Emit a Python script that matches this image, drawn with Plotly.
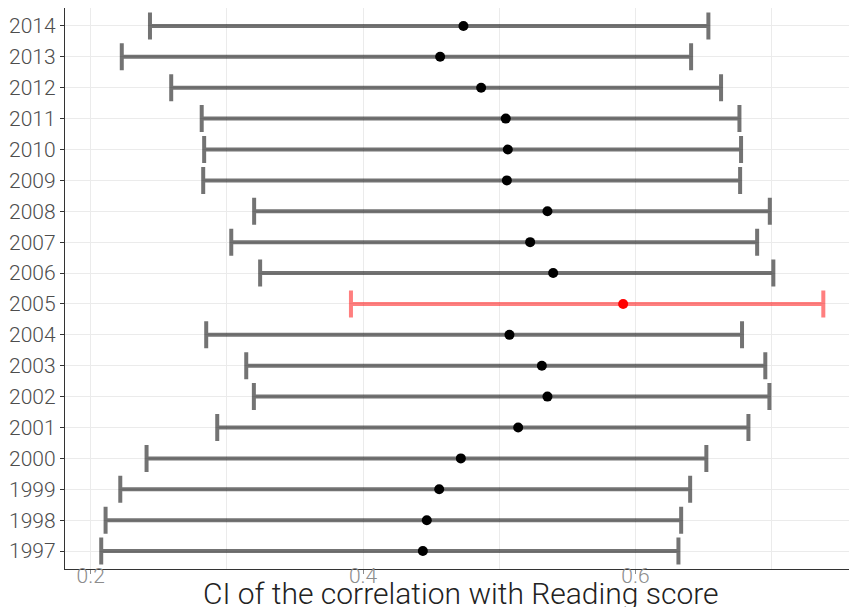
import plotly.graph_objects as go

years = [1997, 1998, 1999, 2000, 2001, 2002, 2003, 2004, 2005,
         2006, 2007, 2008, 2009, 2010, 2011, 2012, 2013, 2014]
lower = [0.2077, 0.2109, 0.2217, 0.2410, 0.2929, 0.3198, 0.3142, 0.2848, 0.3911,
         0.3244, 0.3032, 0.3200, 0.2826, 0.2833, 0.2815, 0.2591, 0.2228, 0.2435]
estimate = [0.4439, 0.4468, 0.4559, 0.4718, 0.5139, 0.5354, 0.5313, 0.5075, 0.5910,
            0.5396, 0.5227, 0.5354, 0.5056, 0.5063, 0.5048, 0.4867, 0.4566, 0.4737]
upper = [0.6316, 0.6336, 0.6402, 0.6521, 0.6830, 0.6984, 0.6954, 0.6783, 0.7380,
         0.7013, 0.6894, 0.6987, 0.6769, 0.6776, 0.6764, 0.6629, 0.6409, 0.6536]
highlight_year = 2005
x_ticks = [0.2, 0.4, 0.6]
x_title = "CI of the correlation with Reading score"

FONT = "Roboto"

fig = go.Figure()

def add_group(mask, bar_color, point_color):
    idx = [i for i, y in enumerate(years) if mask(y)]
    xs = [estimate[i] for i in idx]
    ys = [i for i in idx]
    plus = [upper[i] - estimate[i] for i in idx]
    minus = [estimate[i] - lower[i] for i in idx]
    fig.add_trace(go.Scatter(
        x=xs, y=ys, mode="markers",
        marker=dict(size=1, color="rgba(0,0,0,0)"),
        error_x=dict(type="data", symmetric=False, array=plus, arrayminus=minus,
                     color=bar_color, thickness=4, width=13.5),
        showlegend=False, hoverinfo="skip"))
    fig.add_trace(go.Scatter(
        x=xs, y=ys, mode="markers",
        marker=dict(size=10, color=point_color, line=dict(width=0)),
        showlegend=False))

add_group(lambda y: y != highlight_year, "rgba(0,0,0,0.55)", "black")
add_group(lambda y: y == highlight_year, "rgba(255,0,0,0.5)", "red")

fig.add_annotation(
    text=x_title, xref="paper", yref="paper", x=0.5, y=-0.0428,
    xanchor="center", yanchor="middle", showarrow=False,
    font=dict(size=30, color="#222222", family=FONT, weight=300))

fig.update_layout(
    width=849, height=599,
    margin=dict(l=57, r=1, t=0, b=38),
    paper_bgcolor="white", plot_bgcolor="white",
    font=dict(family=FONT),
    xaxis=dict(
        range=[0.1811, 0.762], automargin=False,
        tickvals=x_ticks, ticktext=[str(v) for v in x_ticks],
        showgrid=True, gridcolor="#ebebeb", gridwidth=1.2,
        minor=dict(dtick=0.1, tick0=0.1, showgrid=True, gridcolor="#ebebeb", gridwidth=1.2),
        ticks="outside", ticklen=4, tickcolor="#8c8c8c", tickwidth=1,
        tickfont=dict(size=21, color="#8c8c8c", family=FONT, weight=300),
        ticklabelstandoff=-16,
        showline=True, linecolor="#333333", linewidth=1.3, mirror=True,
        zeroline=False,
    ),
    yaxis=dict(
        range=[-0.58, 17.58], automargin=False,
        tickvals=list(range(len(years))), ticktext=[str(y) for y in years],
        showgrid=True, gridcolor="#ebebeb", gridwidth=1.2,
        ticks="outside", ticklen=4, tickcolor="#333333", tickwidth=1,
        tickfont=dict(size=21, color="#4d4d4d", family=FONT, weight=300),
        showline=True, linecolor="#333333", linewidth=1.3, mirror=False,
        zeroline=False,
    ),
)

fig.write_html("out.html")
